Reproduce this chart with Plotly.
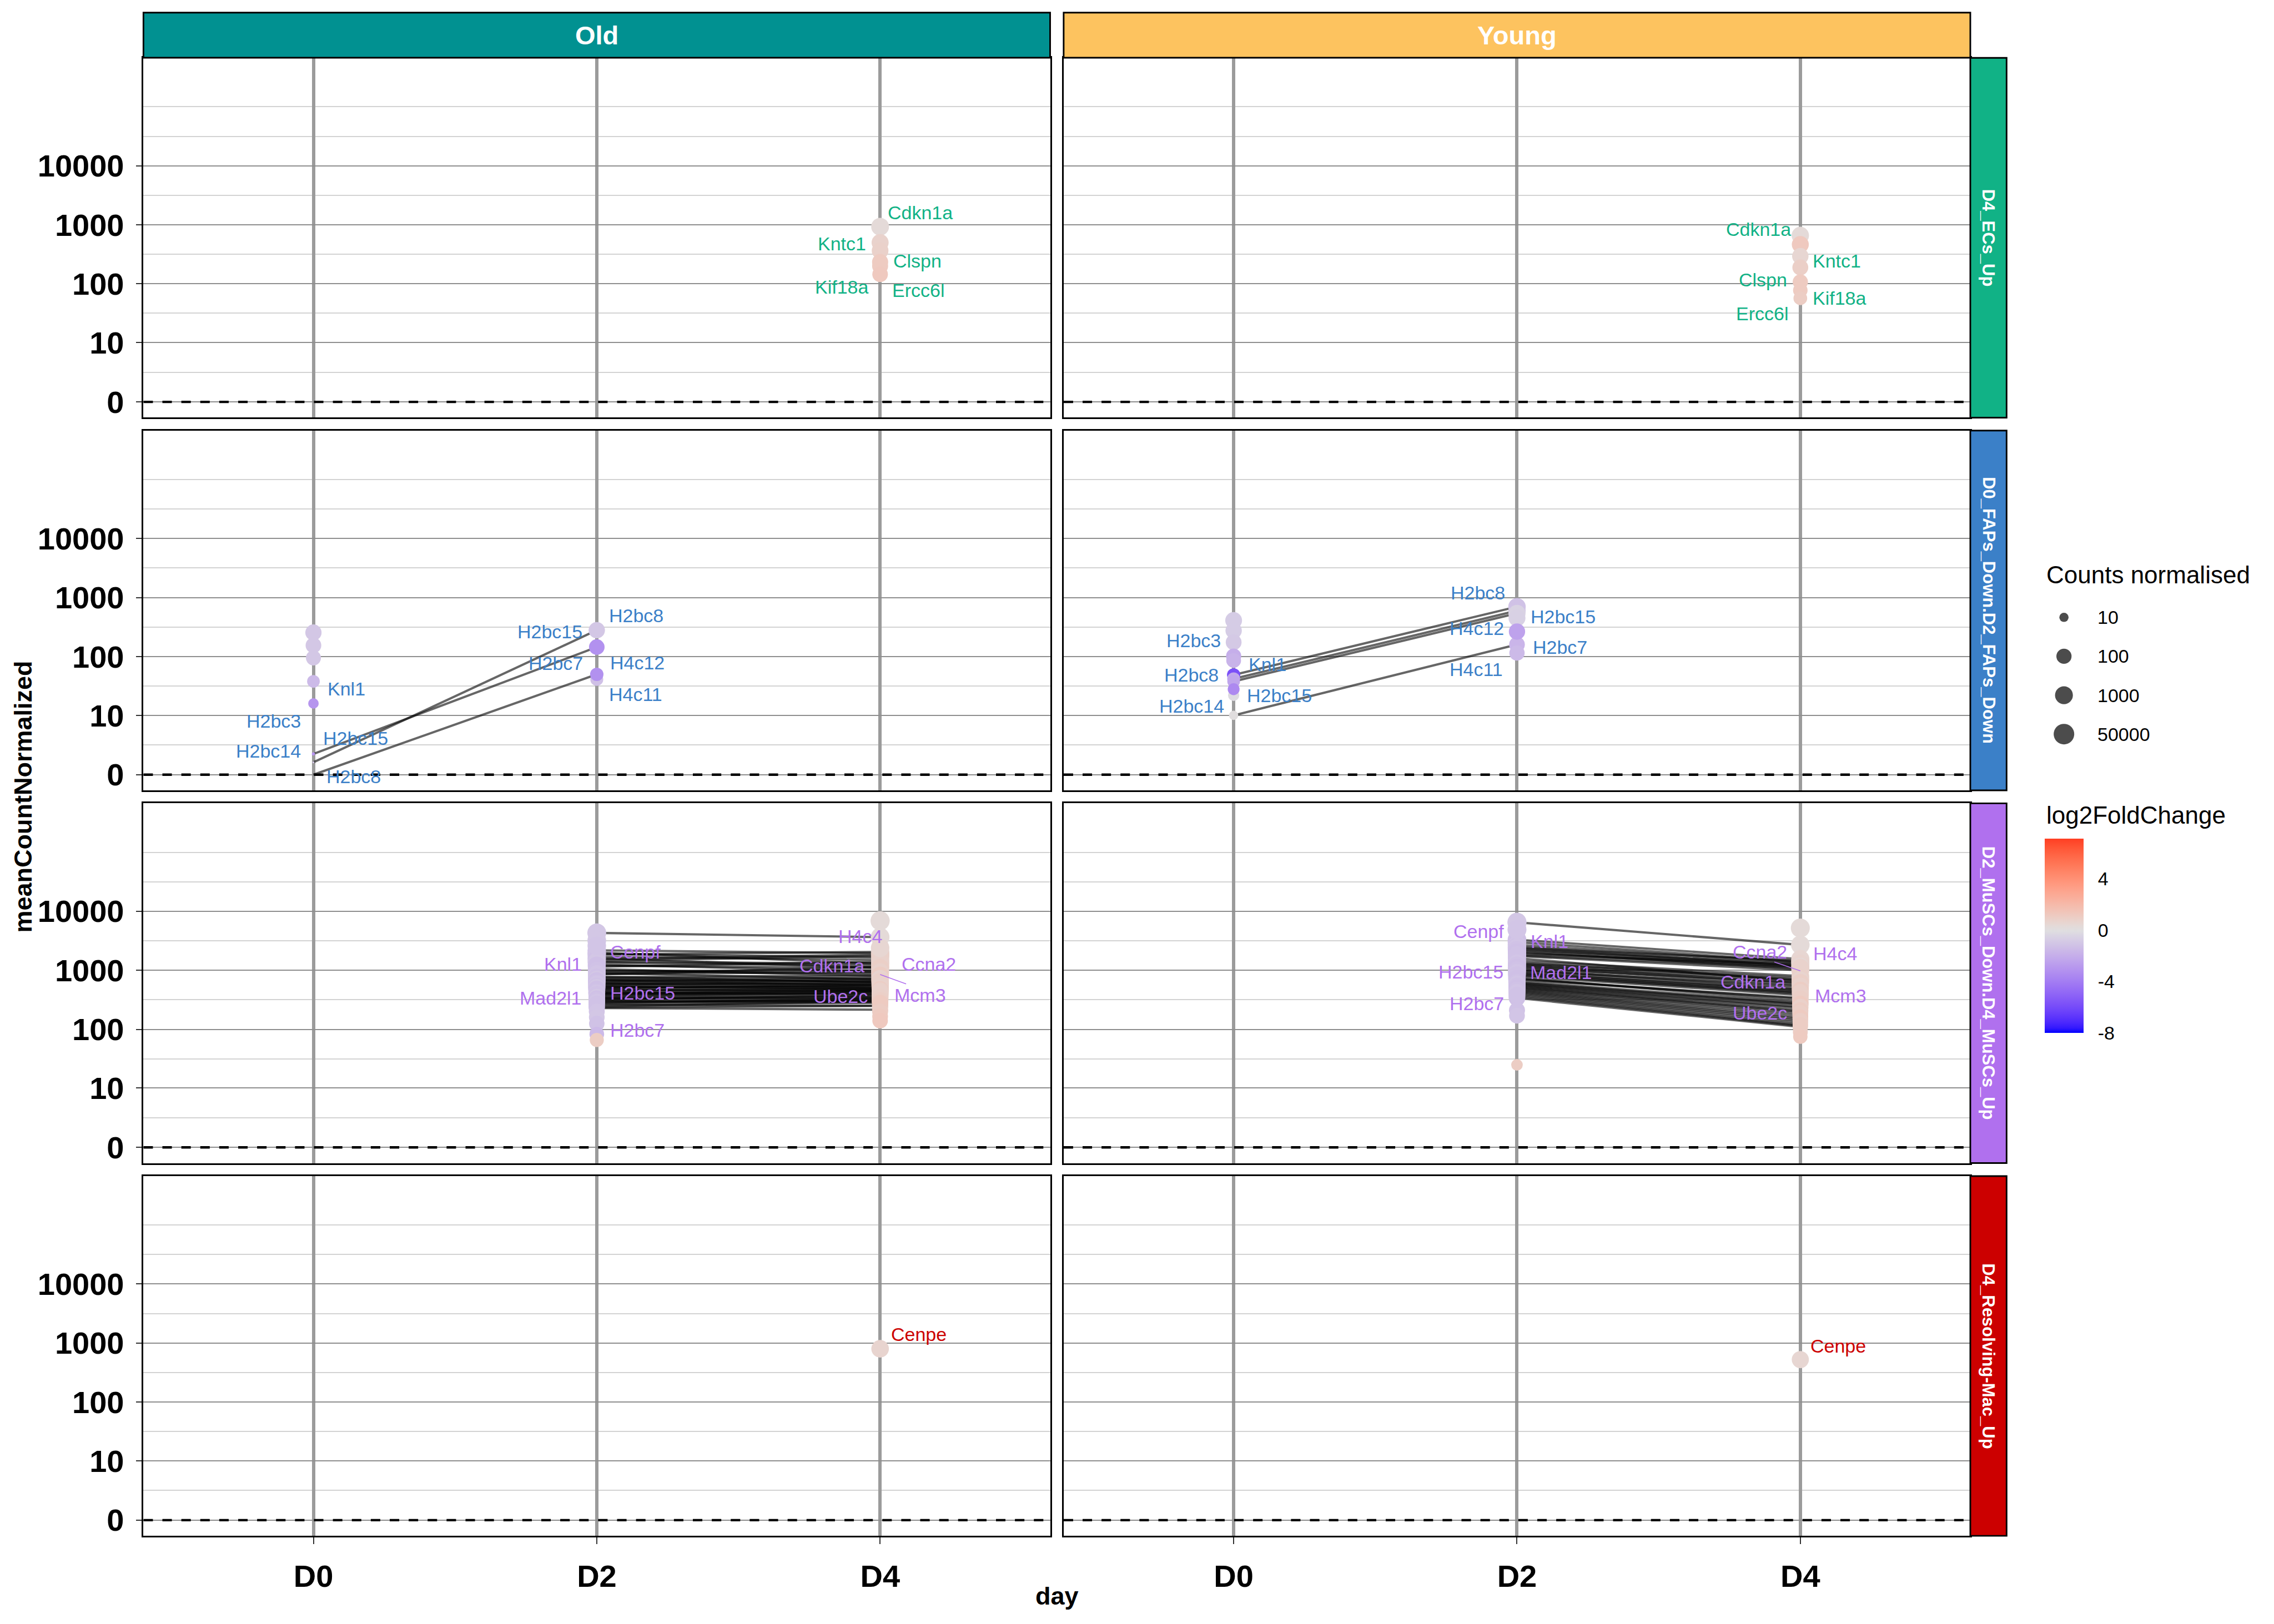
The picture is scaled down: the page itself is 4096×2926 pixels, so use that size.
import math
import numpy as np
import plotly.graph_objects as go

# ------------------------------------------------------------------ data
ages = ["Old", "Young"]
day_names = ["D0", "D2", "D4"]
gene_sets = ["D4_ECs_Up", "D0_FAPs_Down.D2_FAPs_Down",
             "D2_MuSCs_Down.D4_MuSCs_Up", "D4_Resolving-Mac_Up"]
y_tick_counts = [0, 10, 100, 1000, 10000]
size_breaks = [10, 100, 1000, 50000]
lfc_breaks = [-8, -4, 0, 4]
lfc_limits = [-8, 7.08]

N = None
# meanCountNormalized per gene as [D0, D2, D4]; log2FoldChange per gene likewise
ecs_old_count = [[N, N, 930], [N, N, 500], [N, N, 365], [N, N, 235], [N, N, 200], [N, N, 145]]
ecs_old_lfc = [[N, N, 0.3], [N, N, 0.7], [N, N, 0.8], [N, N, 1.1], [N, N, 1.1], [N, N, 1.2]]
ecs_old_labels = [("D4", "Cdkn1a"), ("D4", "Kntc1"), ("D4", "Clspn"), ("D4", "Kif18a"), ("D4", "Ercc6l")]

ecs_young_count = [[N, N, 660], [N, N, 465], [N, N, 294], [N, N, 190], [N, N, 108], [N, N, 78], [N, N, 57]]
ecs_young_lfc = [[N, N, 0.3], [N, N, 1.2], [N, N, 0.5], [N, N, 0.9], [N, N, 1.1], [N, N, 1.1], [N, N, 1.0]]
ecs_young_labels = [("D4", "Cdkn1a"), ("D4", "Kntc1"), ("D4", "Clspn"), ("D4", "Kif18a"), ("D4", "Ercc6l")]

faps_old_count = [[N, 41, N], [255, N, N], [155, N, N], [95, N, N], [38, N, N], [16, N, N],
                  [1.0, 280, N], [1.8, 145, N], [0, 50, N]]
faps_old_lfc = [[N, -1.3, N], [-1.0, N, N], [-1.0, N, N], [-1.0, N, N], [-1.5, N, N], [-3.0, N, N],
                [-1.0, -1.0, N], [-3.0, -3.2, N], [-3.0, -3.2, N]]
faps_old_labels = [("D0", "Knl1"), ("D0", "H2bc3"), ("D0", "H2bc15"), ("D0", "H2bc14"), ("D0", "H2bc8"),
                   ("D2", "H2bc8"), ("D2", "H2bc15"), ("D2", "H2bc7"), ("D2", "H4c12"), ("D2", "H4c11")]

faps_young_count = [[410, N, N], [275, N, N], [175, N, N], [102, N, N], [86, N, N], [22, N, N],
                    [49, 700, N], [42, 600, N], [38, 540, N], [28, N, N], [10, 160, N],
                    [N, 450, N], [N, 265, N], [N, 115, N]]
faps_young_lfc = [[-0.8, N, N], [-0.8, N, N], [-0.9, N, N], [-2.0, N, N], [-1.8, N, N], [-0.2, N, N],
                  [-5.8, -1.2, N], [-2.2, -1.2, N], [-2.4, -0.5, N], [-3.5, N, N], [0.0, -1.7, N],
                  [N, -0.6, N], [N, -2.5, N], [N, -1.5, N]]
faps_young_labels = [("D0", "H2bc3"), ("D0", "Knl1"), ("D0", "H2bc8"), ("D0", "H2bc15"), ("D0", "H2bc14"),
                     ("D2", "H2bc8"), ("D2", "H2bc15"), ("D2", "H4c12"), ("D2", "H2bc7"), ("D2", "H4c11")]

muscs_old_count = [
    [N, 4300, 3650], [N, 2180, 1950], [N, 2000, 1300], [N, 1850, 2050], [N, 1700, 1500],
    [N, 1600, 1100], [N, 1450, 1750], [N, 1350, 1200], [N, 1250, 950], [N, 1150, 1400],
    [N, 1050, 800], [N, 950, 1000], [N, 900, 700], [N, 850, 1150], [N, 780, 620],
    [N, 720, 750], [N, 680, 560], [N, 640, 680], [N, 600, 520], [N, 560, 600],
    [N, 530, 480], [N, 500, 560], [N, 470, 440], [N, 450, 500], [N, 420, 400],
    [N, 400, 460], [N, 380, 360], [N, 360, 420], [N, 340, 320], [N, 320, 380],
    [N, 300, 290], [N, 280, 330], [N, 260, 250], [N, 245, 300], [N, 230, 215], [N, 235, 250],
    [N, 1900, 1650], [N, 1550, 1850], [N, 1400, 1300], [N, 1200, 1100], [N, 980, 880],
    [N, 870, 930], [N, 760, 820], [N, 700, 640], [N, 660, 720], [N, 610, 580],
    [N, 580, 650], [N, 540, 500], [N, 510, 540], [N, 480, 470], [N, 430, 450],
    [N, 410, 390], [N, 390, 430], [N, 350, 340], [N, 330, 350], [N, 310, 300],
    [N, 290, 310], [N, 270, 280],
    [N, 3200, N], [N, 2600, N], [N, 200, N], [N, 160, N], [N, 125, N], [N, 83, N], [N, 66, N],
    [N, N, 6900], [N, N, 2400], [N, N, 200], [N, N, 165], [N, N, 140]]
muscs_old_lfc = [
    [N, -1.0, 0.3], [N, -1.2, 0.6], [N, -1.3, 0.8], [N, -1.1, 0.5], [N, -1.2, 0.9],
    [N, -1.0, 0.7], [N, -1.2, 0.6], [N, -1.3, 1.0], [N, -1.1, 0.8], [N, -1.2, 0.7],
    [N, -1.0, 1.1], [N, -1.2, 0.6], [N, -1.3, 0.9], [N, -1.1, 0.5], [N, -1.2, 1.0],
    [N, -1.0, 0.8], [N, -1.2, 1.2], [N, -1.3, 0.7], [N, -1.1, 0.9], [N, -1.2, 0.6],
    [N, -1.4, 1.0], [N, -1.1, 0.8], [N, -1.2, 1.1], [N, -1.0, 0.7], [N, -1.3, 0.9],
    [N, -1.2, 0.8], [N, -1.1, 1.0], [N, -1.2, 0.6], [N, -1.0, 0.9], [N, -1.3, 0.8],
    [N, -1.2, 1.1], [N, -1.1, 0.7], [N, -1.2, 1.0], [N, -1.0, 0.9], [N, -1.3, 1.2], [N, -1.2, 0.8],
    [N, -1.1, 0.6], [N, -1.2, 0.8], [N, -1.0, 0.7], [N, -1.3, 0.9], [N, -1.2, 0.8],
    [N, -1.1, 0.7], [N, -1.2, 1.0], [N, -1.0, 0.9], [N, -1.3, 0.6], [N, -1.2, 1.1],
    [N, -1.1, 0.8], [N, -1.2, 0.9], [N, -1.0, 0.7], [N, -1.3, 1.0], [N, -1.2, 0.8],
    [N, -1.1, 1.1], [N, -1.2, 0.7], [N, -1.0, 0.9], [N, -1.3, 0.8], [N, -1.2, 1.0],
    [N, -1.1, 0.9], [N, -1.2, 1.1],
    [N, -1.0, N], [N, -1.1, N], [N, -1.1, N], [N, -1.0, N], [N, -1.2, N], [N, -1.5, N], [N, 1.0, N],
    [N, N, 0.3], [N, N, 0.5], [N, N, 1.0], [N, N, 1.1], [N, N, 1.2]]
muscs_old_labels = [("D2", "Cenpf"), ("D2", "Knl1"), ("D2", "H2bc15"), ("D2", "Mad2l1"), ("D2", "H2bc7"),
                    ("D4", "H4c4"), ("D4", "Cdkn1a"), ("D4", "Ccna2"), ("D4", "Ube2c"), ("D4", "Mcm3")]

muscs_young_count = [
    [N, 6500, 2700], [N, 3300, 1550], [N, 3000, 1400], [N, 2700, 1350], [N, 2500, 1200],
    [N, 2300, 1150], [N, 2100, 1050], [N, 1900, 1250], [N, 1750, 1000], [N, 1600, 650],
    [N, 1450, 800], [N, 1350, 700], [N, 1250, 600], [N, 1150, 560], [N, 1050, 500],
    [N, 980, 470], [N, 920, 430], [N, 860, 400], [N, 800, 380], [N, 750, 300],
    [N, 700, 340], [N, 650, 280], [N, 600, 260], [N, 560, 230], [N, 520, 200],
    [N, 480, 175], [N, 440, 150], [N, 400, 130], [N, 360, 115], [N, 340, 110],
    [N, 2400, 1450], [N, 2200, 1300], [N, 2000, 1150], [N, 1800, 1100], [N, 1300, 750],
    [N, 1200, 680], [N, 1100, 620], [N, 1000, 540], [N, 900, 460], [N, 830, 420],
    [N, 720, 330], [N, 620, 270], [N, 580, 240], [N, 540, 210], [N, 500, 190],
    [N, 460, 160], [N, 420, 140], [N, 380, 120],
    [N, 4900, N], [N, 210, N], [N, 170, N], [N, 25, N],
    [N, N, 5200], [N, N, 90], [N, N, 75]]
muscs_young_lfc = [
    [N, -1.0, 0.3], [N, -1.2, 0.5], [N, -1.3, 0.6], [N, -1.1, 0.4], [N, -1.2, 0.7],
    [N, -1.3, 0.5], [N, -1.0, 0.6], [N, -1.2, 0.4], [N, -1.1, 0.8], [N, -1.3, 1.0],
    [N, -1.2, 0.6], [N, -1.1, 0.7], [N, -1.2, 0.9], [N, -1.4, 0.5], [N, -1.2, 0.8],
    [N, -1.1, 0.6], [N, -1.2, 0.9], [N, -1.3, 0.7], [N, -1.2, 1.1], [N, -1.1, 0.8],
    [N, -1.2, 0.6], [N, -1.3, 0.9], [N, -1.2, 1.0], [N, -1.1, 0.8], [N, -1.2, 1.2],
    [N, -1.3, 0.9], [N, -1.2, 1.0], [N, -1.1, 0.8], [N, -1.2, 1.1], [N, -1.3, 0.9],
    [N, -1.1, 0.5], [N, -1.2, 0.6], [N, -1.3, 0.4], [N, -1.2, 0.7], [N, -1.1, 0.8],
    [N, -1.2, 0.6], [N, -1.3, 0.9], [N, -1.2, 0.7], [N, -1.1, 1.0], [N, -1.2, 0.8],
    [N, -1.3, 0.9], [N, -1.2, 1.1], [N, -1.1, 0.8], [N, -1.2, 1.0], [N, -1.3, 0.9],
    [N, -1.2, 1.1], [N, -1.1, 0.9], [N, -1.2, 1.0],
    [N, -1.1, N], [N, -1.2, N], [N, -1.1, N], [N, 1.0, N],
    [N, N, 0.3], [N, N, 1.0], [N, N, 1.1]]
muscs_young_labels = [("D2", "Cenpf"), ("D2", "Knl1"), ("D2", "H2bc15"), ("D2", "Mad2l1"), ("D2", "H2bc7"),
                      ("D4", "Ccna2"), ("D4", "H4c4"), ("D4", "Cdkn1a"), ("D4", "Mcm3"), ("D4", "Ube2c")]

mac_old_count = [[N, N, 800]]
mac_old_lfc = [[N, N, 0.6]]
mac_old_labels = [("D4", "Cenpe")]

mac_young_count = [[N, N, 525]]
mac_young_lfc = [[N, N, 0.5]]
mac_young_labels = [("D4", "Cenpe")]

panel_data = {
    (0, 0): (ecs_old_count, ecs_old_lfc, ecs_old_labels),
    (0, 1): (ecs_young_count, ecs_young_lfc, ecs_young_labels),
    (1, 0): (faps_old_count, faps_old_lfc, faps_old_labels),
    (1, 1): (faps_young_count, faps_young_lfc, faps_young_labels),
    (2, 0): (muscs_old_count, muscs_old_lfc, muscs_old_labels),
    (2, 1): (muscs_young_count, muscs_young_lfc, muscs_young_labels),
    (3, 0): (mac_old_count, mac_old_lfc, mac_old_labels),
    (3, 1): (mac_young_count, mac_young_lfc, mac_young_labels),
}

# ------------------------------------------------------------------ layout / style
S = 0.975
W, H = 4096, 2926
FONT = "Liberation Sans, Arial, Helvetica, sans-serif"

PANEL_X = [(265, 1940), (1965, 3640)]
PANEL_Y = [(107, 772.5), (796.5, 1462), (1486, 2151.5), (2175.5, 2841)]
STRIP_TOP = (23.3, 106.7)
STRIP_RIGHT = (3640, 3707)
X_RANGE = [0.4, 3.6]
Y_RANGE = [-0.266, 5.829]
PX_PER_UNIT = (PANEL_X[0][1] - PANEL_X[0][0]) / (X_RANGE[1] - X_RANGE[0])

strip_top_colors = ["#019191", "#FDC35F"]
set_colors = ["#11B286", "#3B80C8", "#B070EE", "#CC0000"]

# repelled label placement: (label y on the transformed axis, x offset px, anchor)
label_place = {
    (0, 0): [(3.21, 12, "left"), (2.68, -24, "right"), (2.39, 22, "left"), (1.95, -20, "right"), (1.89, 20, "left")],
    (0, 1): [(2.93, -15, "right"), (2.39, 21, "left"), (2.07, -22, "right"), (1.76, 21, "left"), (1.50, -20, "right")],
    (1, 0): [(1.45, 24, "left"), (0.91, -21, "right"), (0.62, 16, "left"), (0.40, -21, "right"), (-0.03, 22, "left"),
             (2.70, 21, "left"), (2.42, -25, "right"), (1.89, -24, "right"), (1.90, 23, "left"), (1.36, 21, "left")],
    (1, 1): [(2.27, -22, "right"), (1.87, 26, "left"), (1.69, -26, "right"), (1.34, 22, "left"), (1.16, -15, "right"),
             (3.08, -20, "right"), (2.68, 23, "left"), (2.48, -22, "right"), (2.16, 27, "left"), (1.78, -24, "right")],
    (2, 0): [(3.31, 23, "left"), (3.11, -26, "right"), (2.62, 23, "left"), (2.53, -26, "right"), (1.99, 23, "left"),
             (3.58, 6, "right"), (3.08, -27, "right"), (3.11, 38, "left"), (2.56, -21, "right"), (2.58, 24, "left")],
    (2, 1): [(3.66, -22, "right"), (3.49, 23, "left"), (2.97, -23, "right"), (2.96, 22, "left"), (2.44, -22, "right"),
             (3.31, -22, "right"), (3.28, 22, "left"), (2.80, -25, "right"), (2.57, 25, "left"), (2.28, -22, "right")],
    (3, 0): [(3.15, 18, "left")],
    (3, 1): [(2.95, 17, "left")],
}
# ggrepel segments: (day, y at point, y at label end, x offset px of label end)
leader_place = {
    (2, 0): [("D4", 2.93, 2.77, 48)],
    (2, 1): [("D4", 2.99, 3.14, -48)],
}


def fx(px):
    return px * S / W


def fy(py):
    return 1 - py * S / H


def pl(c):
    """pseudo-log10 transform (sigma = 1) of the y scale"""
    return math.asinh(c / 2.0) / math.log(10)


def msize(c):
    return float(S * np.interp(pl(c), [0, 1, 2, 3, 4.7], [0, 17, 28, 33, 38]))


# --- Lab colour interpolation (as ggplot's gradient2) ---
_M = np.array([[0.4124564, 0.3575761, 0.1804375],
               [0.2126729, 0.7151522, 0.0721750],
               [0.0193339, 0.1191920, 0.9503041]])
_MI = np.linalg.inv(_M)
_WHITE = np.array([0.95047, 1.0, 1.08883])


def _to_lab(hx):
    rgb = np.array([int(hx[i:i + 2], 16) / 255 for i in (1, 3, 5)])
    lin = np.where(rgb <= 0.04045, rgb / 12.92, ((rgb + 0.055) / 1.055) ** 2.4)
    xyz = _M @ lin / _WHITE
    f = np.where(xyz > 0.008856, np.cbrt(xyz), 7.787 * xyz + 16 / 116)
    return np.array([116 * f[1] - 16, 500 * (f[0] - f[1]), 200 * (f[1] - f[2])])


def _from_lab(lab):
    L, a, b = lab
    fy_ = (L + 16) / 116
    f = np.array([fy_ + a / 500, fy_, fy_ - b / 200])
    xyz = np.where(f ** 3 > 0.008856, f ** 3, (f - 16 / 116) / 7.787) * _WHITE
    lin = np.clip(_MI @ xyz, 0, 1)
    rgb = np.where(lin <= 0.0031308, 12.92 * lin, 1.055 * lin ** (1 / 2.4) - 0.055)
    rgb = np.clip(np.round(rgb * 255), 0, 255).astype(int)
    return "rgb(%d,%d,%d)" % tuple(rgb)


LOW, MID, HIGH = _to_lab("#0000FF"), _to_lab("#E0E0E0"), _to_lab("#FF0000")
colorscale = []
for t in np.linspace(0, 1, 41):
    val = lfc_limits[0] + t * (lfc_limits[1] - lfc_limits[0])
    r = val / max(abs(lfc_limits[0]), abs(lfc_limits[1])) / 2 + 0.5
    lab = LOW + (MID - LOW) * (r / 0.5) if r <= 0.5 else MID + (HIGH - MID) * ((r - 0.5) / 0.5)
    colorscale.append([float(t), _from_lab(lab)])

fig = go.Figure()
layout = dict(width=W, height=H, margin=dict(l=0, r=0, t=0, b=0), autosize=False,
              paper_bgcolor="white", plot_bgcolor="white", showlegend=False)
annotations = []
shapes = []

y_tickvals = [pl(c) for c in y_tick_counts]
minor_vals = [(y_tickvals[i] + y_tickvals[i + 1]) / 2 for i in range(len(y_tickvals) - 1)]
minor_vals += [y_tickvals[-1] + 0.5, y_tickvals[-1] + 1.0]

for r in range(4):
    for c in range(2):
        k = r * 2 + c + 1
        xa = "x" if k == 1 else f"x{k}"
        ya = "y" if k == 1 else f"y{k}"
        bottom = (r == 3)
        left = (c == 0)
        layout["xaxis" if k == 1 else f"xaxis{k}"] = dict(
            domain=[fx(PANEL_X[c][0]), fx(PANEL_X[c][1])], range=X_RANGE, anchor=ya,
            tickmode="array", tickvals=[1, 2, 3], ticktext=day_names,
            showgrid=True, gridcolor="#9B9B9B", gridwidth=6 * S, zeroline=False,
            showline=True, linecolor="black", linewidth=3 * S, mirror=True,
            ticks="outside" if bottom else "", ticklen=12 * S, tickwidth=2.5 * S, tickcolor="#333333",
            showticklabels=bottom, ticklabelstandoff=10,
            tickfont=dict(family=FONT, size=56, color="black", weight="bold"), fixedrange=True)
        layout["yaxis" if k == 1 else f"yaxis{k}"] = dict(
            domain=[fy(PANEL_Y[r][1]), fy(PANEL_Y[r][0])], range=Y_RANGE, anchor=xa,
            tickmode="array", tickvals=y_tickvals, ticktext=[str(v) for v in y_tick_counts],
            showgrid=True, gridcolor="#8E8E8E", gridwidth=1.6 * S, zeroline=False,
            minor=dict(tickmode="array", tickvals=minor_vals, showgrid=True,
                       gridcolor="#D3D3D3", gridwidth=1.8 * S, ticks=""),
            showline=True, linecolor="black", linewidth=3 * S, mirror=True,
            ticks="outside" if left else "", ticklen=11 * S, tickwidth=2.5 * S, tickcolor="#333333",
            showticklabels=left, ticklabelstandoff=10,
            tickfont=dict(family=FONT, size=56, color="black", weight="bold"), fixedrange=True)

        counts, lfcs, labels = panel_data[(r, c)]
        # dashed zero line
        fig.add_trace(go.Scatter(x=X_RANGE, y=[0, 0], mode="lines", xaxis=xa, yaxis=ya,
                                 line=dict(color="black", width=4.5 * S, dash=f"{17.5 * S}px,{17.5 * S}px"),
                                 hoverinfo="skip", showlegend=False))
        # lines joining the same gene across days
        for g in counts:
            xs = [i + 1 for i, v in enumerate(g) if v is not None]
            if len(xs) > 1:
                ys = [pl(v) for v in g if v is not None]
                fig.add_trace(go.Scatter(x=xs, y=ys, mode="lines", xaxis=xa, yaxis=ya,
                                         line=dict(color="rgba(0,0,0,0.6)", width=4.2 * S),
                                         hoverinfo="skip", showlegend=False))
        # points
        pxs, pys, pcs, pss = [], [], [], []
        for g, lf in zip(counts, lfcs):
            for i, v in enumerate(g):
                if v is not None:
                    pxs.append(i + 1)
                    pys.append(pl(v))
                    pcs.append(lf[i])
                    pss.append(msize(v))
        fig.add_trace(go.Scatter(x=pxs, y=pys, mode="markers", xaxis=xa, yaxis=ya,
                                 marker=dict(size=pss, color=pcs, coloraxis="coloraxis",
                                             line=dict(width=0), opacity=1),
                                 hoverinfo="skip", showlegend=False))
        # repel segments
        for day, v0, v1, dxp in leader_place.get((r, c), []):
            d = day_names.index(day) + 1
            fig.add_trace(go.Scatter(x=[d, d + dxp / PX_PER_UNIT], y=[v0, v1], mode="lines",
                                     xaxis=xa, yaxis=ya, line=dict(color=set_colors[r], width=1.6 * S),
                                     hoverinfo="skip", showlegend=False))
        # gene labels
        for (day, text), (v, dxp, anchor) in zip(labels, label_place[(r, c)]):
            annotations.append(dict(x=day_names.index(day) + 1, y=v, xref=xa, yref=ya, text=text,
                                    showarrow=False, xanchor=anchor, yanchor="middle", xshift=dxp * S,
                                    font=dict(family=FONT, size=34, color=set_colors[r])))

# strips
for c, age in enumerate(ages):
    shapes.append(dict(type="rect", xref="paper", yref="paper",
                       x0=fx(PANEL_X[c][0]), x1=fx(PANEL_X[c][1]), y0=fy(STRIP_TOP[1]), y1=fy(STRIP_TOP[0]),
                       fillcolor=strip_top_colors[c], line=dict(color="black", width=3 * S), layer="above"))
    annotations.append(dict(x=fx((PANEL_X[c][0] + PANEL_X[c][1]) / 2), y=fy((STRIP_TOP[0] + STRIP_TOP[1]) / 2),
                            xref="paper", yref="paper", text=f"<b>{age}</b>", showarrow=False,
                            xanchor="center", yanchor="middle",
                            font=dict(family=FONT, size=47, color="white")))
for r, gs in enumerate(gene_sets):
    shapes.append(dict(type="rect", xref="paper", yref="paper",
                       x0=fx(STRIP_RIGHT[0]), x1=fx(STRIP_RIGHT[1]), y0=fy(PANEL_Y[r][1]), y1=fy(PANEL_Y[r][0]),
                       fillcolor=set_colors[r], line=dict(color="black", width=3 * S), layer="above"))
    annotations.append(dict(x=fx((STRIP_RIGHT[0] + STRIP_RIGHT[1]) / 2), y=fy((PANEL_Y[r][0] + PANEL_Y[r][1]) / 2),
                            xref="paper", yref="paper", text=f"<b>{gs}</b>", showarrow=False,
                            textangle=90, xanchor="center", yanchor="middle",
                            font=dict(family=FONT, size=31, color="white")))

# axis titles
annotations.append(dict(x=fx(43), y=fy((PANEL_Y[0][0] + PANEL_Y[3][1]) / 2), xref="paper", yref="paper",
                        text="<b>meanCountNormalized</b>", showarrow=False, textangle=-90,
                        xanchor="center", yanchor="middle", font=dict(family=FONT, size=45, color="black")))
annotations.append(dict(x=fx((PANEL_X[0][0] + PANEL_X[1][1]) / 2), y=fy(2952), xref="paper", yref="paper",
                        text="<b>day</b>", showarrow=False, xanchor="center", yanchor="middle",
                        font=dict(family=FONT, size=45, color="black")))

# size legend (own small axis pair)
layout["xaxis9"] = dict(domain=[fx(3753), fx(3873)], range=[-1, 1], visible=False, fixedrange=True, anchor="y9")
layout["yaxis9"] = dict(domain=[fy(1394), fy(1106)], range=[len(size_breaks) - 0.5, -0.5], visible=False,
                        fixedrange=True, anchor="x9")
fig.add_trace(go.Scatter(x=[0] * len(size_breaks), y=list(range(len(size_breaks))), mode="markers",
                         xaxis="x9", yaxis="y9",
                         marker=dict(size=[msize(v) for v in size_breaks], color="black", line=dict(width=0)),
                         hoverinfo="skip", showlegend=False))
for i, v in enumerate(size_breaks):
    annotations.append(dict(x=1, y=i, xref="x9", yref="y9", text=str(v), showarrow=False,
                            xanchor="left", yanchor="middle", font=dict(family=FONT, size=34, color="black")))
annotations.append(dict(x=fx(3778), y=fy(1063), xref="paper", yref="paper", text="Counts normalised",
                        showarrow=False, xanchor="left", yanchor="middle",
                        font=dict(family=FONT, size=44, color="black")))
annotations.append(dict(x=fx(3778), y=fy(1508), xref="paper", yref="paper", text="log2FoldChange",
                        showarrow=False, xanchor="left", yanchor="middle",
                        font=dict(family=FONT, size=44, color="black")))

layout["coloraxis"] = dict(
    cmin=lfc_limits[0], cmax=lfc_limits[1], colorscale=colorscale,
    colorbar=dict(x=fx(3777), xanchor="left", xpad=0, y=fy(1551.7), yanchor="top", ypad=0,
                  len=359 * S, lenmode="pixels", thickness=72 * S, thicknessmode="pixels",
                  outlinewidth=0, tickmode="array", tickvals=lfc_breaks, ticktext=[str(v) for v in lfc_breaks],
                  ticks="outside", ticklen=20 * S, tickcolor="rgba(255,255,255,0)",
                  tickfont=dict(family=FONT, size=34, color="black")))
layout["annotations"] = annotations
layout["shapes"] = shapes
fig.update_layout(**layout)
fig.write_html("out.html")
